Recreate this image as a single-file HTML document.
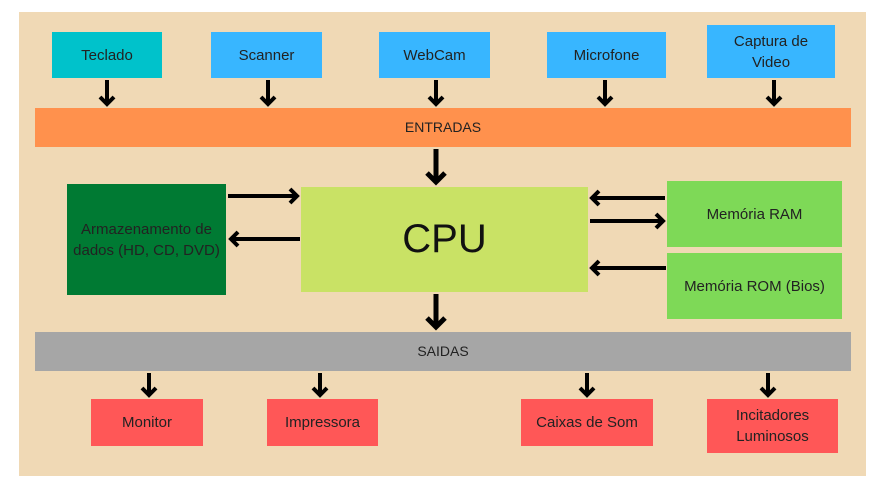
<!DOCTYPE html>
<html><head><meta charset="utf-8"><style>
body{margin:0;width:875px;height:485px;background:#fff;position:relative;overflow:hidden;font-family:"Liberation Sans",sans-serif;}
.b{position:absolute;display:flex;align-items:center;justify-content:center;text-align:center;font-size:15px;color:#222;line-height:21px;}
svg{position:absolute;left:0;top:0;}
</style></head><body>
<div class="b" style="left:19px;top:12px;width:847px;height:464px;background:#f0d9b5"></div>
<div class="b" style="left:52px;top:32px;width:110px;height:46px;background:#00c2cb">Teclado</div>
<div class="b" style="left:211px;top:32px;width:111px;height:46px;background:#38b6ff">Scanner</div>
<div class="b" style="left:379px;top:32px;width:111px;height:46px;background:#38b6ff">WebCam</div>
<div class="b" style="left:547px;top:32px;width:119px;height:46px;background:#38b6ff">Microfone</div>
<div class="b" style="left:707px;top:25px;width:128px;height:53px;background:#38b6ff">Captura de<br>Video</div>
<div class="b" style="left:35px;top:108px;width:816px;height:39px;background:#ff914d;font-size:14px">ENTRADAS</div>
<div class="b" style="left:301px;top:187px;width:287px;height:105px;background:#c9e265;font-size:40px;color:#111">CPU</div>
<div class="b" style="left:67px;top:184px;width:159px;height:111px;background:#007a33">Armazenamento de<br>dados (HD, CD, DVD)</div>
<div class="b" style="left:667px;top:181px;width:175px;height:66px;background:#7ed957">Memória RAM</div>
<div class="b" style="left:667px;top:253px;width:175px;height:66px;background:#7ed957">Memória ROM (Bios)</div>
<div class="b" style="left:35px;top:332px;width:816px;height:39px;background:#a6a6a6;font-size:14px">SAIDAS</div>
<div class="b" style="left:91px;top:399px;width:112px;height:47px;background:#ff5757">Monitor</div>
<div class="b" style="left:267px;top:399px;width:111px;height:47px;background:#ff5757">Impressora</div>
<div class="b" style="left:521px;top:399px;width:132px;height:47px;background:#ff5757">Caixas de Som</div>
<div class="b" style="left:707px;top:399px;width:131px;height:54px;background:#ff5757">Incitadores<br>Luminosos</div>
<svg width="875" height="485" fill="none" stroke="#000" stroke-width="4">
<g>
<path d="M107 80V104M100 97L107 104L114 97"/>
<path d="M268 80V104M261 97L268 104L275 97"/>
<path d="M436 80V104M429 97L436 104L443 97"/>
<path d="M605 80V104M598 97L605 104L612 97"/>
<path d="M774 80V104M767 97L774 104L781 97"/>
<path d="M436 149V182M427 173L436 182L445 173" stroke-width="5"/>
<path d="M436 294V327M427 318L436 327L445 318" stroke-width="5"/>
<path d="M228 196H297M290 189L297 196L290 203"/>
<path d="M300 239H231M238 232L231 239L238 246"/>
<path d="M665 198H592M599 191L592 198L599 205"/>
<path d="M590 221H663M656 214L663 221L656 228"/>
<path d="M666 268H592M599 261L592 268L599 275"/>
<path d="M149 373V395M142 388L149 395L156 388"/>
<path d="M320 373V395M313 388L320 395L327 388"/>
<path d="M587 373V395M580 388L587 395L594 388"/>
<path d="M768 373V395M761 388L768 395L775 388"/>
</g></svg>
</body></html>
